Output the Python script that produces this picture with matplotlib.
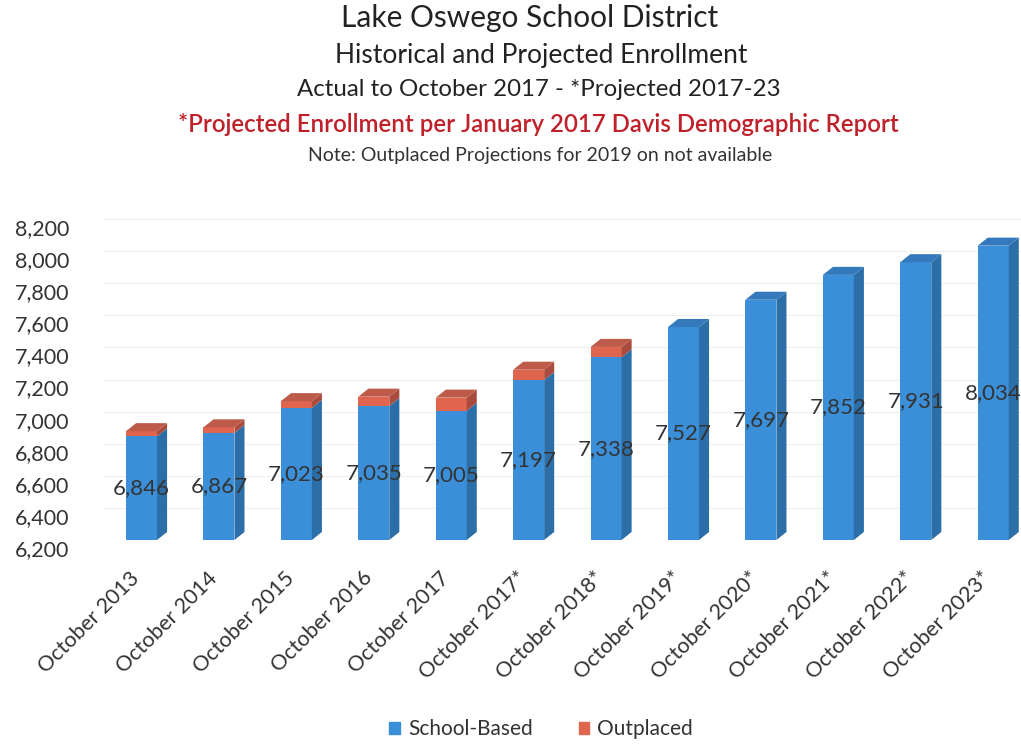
import numpy as np
import matplotlib
matplotlib.use("Agg")
import matplotlib.pyplot as plt
from matplotlib.patches import Polygon, Patch
from matplotlib.transforms import ScaledTranslation

plt.rcParams['font.family'] = ['Lato', 'DejaVu Sans']

# data
categories = ["October 2013", "October 2014", "October 2015", "October 2016",
              "October 2017", "October 2017*", "October 2018*", "October 2019*",
              "October 2020*", "October 2021*", "October 2022*", "October 2023*"]
school_based = [6846, 6867, 7023, 7035, 7005, 7197, 7338, 7527, 7697, 7852, 7931, 8034]
outplaced = [32, 35, 42, 58, 82, 64, 65, 0, 0, 0, 0, 0]
y_ticks = [6200, 6400, 6600, 6800, 7000, 7200, 7400, 7600, 7800, 8000, 8200]

base = 6200
blue = ('#3b8fd8', '#2c6ea8', '#3379bb')   # front, side, top
red = ('#e0654f', '#a94c3e', '#bd5a49')

fig = plt.figure(figsize=(10.21, 7.44), dpi=100)
ax = fig.add_axes([0.1007, 0.2742, 0.91, 0.4422])

x = np.arange(len(categories))
w = 0.4
dx, dy = 0.13, 50  # fake 3d depth

ax.bar(x, np.array(school_based) - base, w, bottom=base, color=blue[0], zorder=3)
ax.bar(x, outplaced, w, bottom=school_based, color=red[0], zorder=3)

for xi, sb, op in zip(x, school_based, outplaced):
    segs = [(base, sb, blue)]
    if op > 0:
        segs.append((sb, sb + op, red))
    for y0, y1, col in segs:
        ax.add_patch(Polygon([(xi + w/2, y0), (xi + w/2 + dx, y0 + dy),
                              (xi + w/2 + dx, y1 + dy), (xi + w/2, y1)],
                             closed=True, color=col[1], zorder=3, lw=0))
    top, col = segs[-1][1], segs[-1][2]
    ax.add_patch(Polygon([(xi - w/2, top), (xi - w/2 + dx, top + dy),
                          (xi + w/2 + dx, top + dy), (xi + w/2, top)],
                         closed=True, color=col[2], zorder=3, lw=0))
    ax.text(xi, (base + sb) / 2, f"{sb:,}", ha='center', va='center',
            fontsize=16, color='#333333', zorder=5)

ax.set_xlim(-0.5, 11.5)
ax.set_ylim(base, 8250)
ax.set_yticks(y_ticks)
ax.set_yticklabels([f"{v:,}" for v in y_ticks])
ax.tick_params(axis='y', length=0, labelsize=15.5, pad=24, colors='#333333')
ax.set_xticks(x)
ax.set_xticklabels(categories, rotation=45, ha='right', rotation_mode='anchor')
ax.tick_params(axis='x', length=0, labelsize=15.5, pad=20, colors='#333333')
for lbl in ax.get_yticklabels():
    lbl.set_transform(lbl.get_transform() + ScaledTranslation(0, -0.08, fig.dpi_scale_trans))
for lbl in ax.get_xticklabels():
    lbl.set_transform(lbl.get_transform() + ScaledTranslation(-0.12, 0, fig.dpi_scale_trans))
for s in ax.spines.values():
    s.set_visible(False)
ax.grid(axis='y', color='#f0f0f0', lw=0.8, zorder=0)

fig.text(0.519, 1 - 18/744, "Lake Oswego School District", ha='center', va='center',
         fontsize=21.5, color='#222222')
fig.text(0.53, 1 - 55/744, "Historical and Projected Enrollment", ha='center', va='center',
         fontsize=19, color='#222222')
fig.text(0.528, 1 - 90/744, "Actual to October 2017 - *Projected 2017-23", ha='center',
         va='center', fontsize=17.3, color='#222222')
fig.text(0.527, 1 - 124/744, "*Projected Enrollment per January 2017 Davis Demographic Report",
         ha='center', va='center', fontsize=17.3, color='#c0202a', fontweight='semibold')
fig.text(0.529, 1 - 155/744, "Note: Outplaced Projections for 2019 on not available",
         ha='center', va='center', fontsize=14, color='#333333')

handles = [Patch(color=blue[0], label='School-Based'), Patch(color=red[0], label='Outplaced')]
fig.legend(handles=handles, loc='center', bbox_to_anchor=(0.53, 1 - 729/744), ncol=2,
           frameon=False, fontsize=15, handlelength=0.5, handleheight=0.5,
           handletextpad=0.4, columnspacing=2.2, labelcolor='#333333')

fig.savefig("out.png", dpi=100)
